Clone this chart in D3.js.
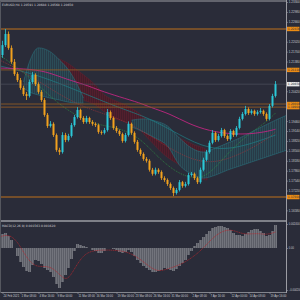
<!DOCTYPE html>
<html>
<head>
<meta charset="utf-8">
<style>
  html, body { margin: 0; padding: 0; background: #2a2c39; overflow: hidden; }
  svg { display: block; font-family: "DejaVu Sans", sans-serif; }
</style>
<script src="https://cdn.jsdelivr.net/npm/d3@7"></script>
</head>
<body>
<div class="chart-div"></div>
<script>
const w = 300;
const h = 300;
const plotRight = 286;
const mainTop = 2, mainBottom = 220;
const subTop = 222, subBottom = 292;

// EURUSD candles, oldest first
const opens = [1.2159, 1.2191, 1.2227, 1.2182, 1.2137, 1.2098, 1.2078, 1.2053, 1.2033, 1.2027,
  1.2072, 1.2095, 1.2065, 1.2040, 1.2014, 1.1966, 1.1930, 1.1937, 1.1901, 1.1853,
  1.1846, 1.1901, 1.1885, 1.1898, 1.1933, 1.1959, 1.1982, 1.1956, 1.1943, 1.1956,
  1.1943, 1.1937, 1.1933, 1.1911, 1.1908, 1.1917, 1.1975, 1.1956, 1.1924, 1.1914,
  1.1904, 1.1882, 1.1901, 1.1937, 1.1908, 1.1879, 1.1853, 1.1840, 1.1824, 1.1818,
  1.1789, 1.1776, 1.1789, 1.1782, 1.1762, 1.1756, 1.1743, 1.1730, 1.1714, 1.1724,
  1.1749, 1.1737, 1.1743, 1.1772, 1.1776, 1.1762, 1.1749, 1.1789, 1.1821, 1.1846,
  1.1876, 1.1908, 1.1885, 1.1898, 1.1917, 1.1898, 1.1888, 1.1914, 1.1901, 1.1924,
  1.1953, 1.1969, 1.1985, 1.1972, 1.1979, 1.1969, 1.1975, 1.1979, 1.1969, 1.1953,
  1.1995, 1.2027];
const highs = [1.2205, 1.2243, 1.2235, 1.2190, 1.2146, 1.2104, 1.2085, 1.2060, 1.2040, 1.2080,
  1.2104, 1.2100, 1.2071, 1.2046, 1.2020, 1.1972, 1.1946, 1.1942, 1.1906, 1.1860,
  1.1910, 1.1908, 1.1905, 1.1940, 1.1966, 1.1991, 1.1986, 1.1962, 1.1963, 1.1960,
  1.1949, 1.1942, 1.1938, 1.1916, 1.1924, 1.1985, 1.1980, 1.1961, 1.1930, 1.1919,
  1.1909, 1.1908, 1.1945, 1.1941, 1.1913, 1.1885, 1.1858, 1.1845, 1.1830, 1.1823,
  1.1795, 1.1796, 1.1794, 1.1787, 1.1768, 1.1761, 1.1748, 1.1735, 1.1730, 1.1756,
  1.1753, 1.1750, 1.1779, 1.1782, 1.1780, 1.1767, 1.1796, 1.1828, 1.1853, 1.1883,
  1.1917, 1.1912, 1.1905, 1.1924, 1.1921, 1.1903, 1.1920, 1.1918, 1.1930, 1.1960,
  1.1975, 1.1995, 1.1990, 1.1984, 1.1983, 1.1981, 1.1988, 1.1983, 1.1974, 1.2001,
  1.2034, 1.2075];
const lows = [1.2150, 1.2185, 1.2176, 1.2131, 1.2092, 1.2072, 1.2047, 1.2027, 1.2014, 1.2022,
  1.2066, 1.2059, 1.2034, 1.2008, 1.1960, 1.1924, 1.1925, 1.1895, 1.1847, 1.1837,
  1.1841, 1.1878, 1.1880, 1.1893, 1.1928, 1.1954, 1.1950, 1.1937, 1.1938, 1.1937,
  1.1931, 1.1927, 1.1905, 1.1902, 1.1903, 1.1912, 1.1950, 1.1918, 1.1908, 1.1898,
  1.1876, 1.1877, 1.1896, 1.1902, 1.1873, 1.1847, 1.1834, 1.1818, 1.1812, 1.1783,
  1.1770, 1.1771, 1.1776, 1.1756, 1.1750, 1.1737, 1.1724, 1.1704, 1.1709, 1.1719,
  1.1731, 1.1732, 1.1738, 1.1767, 1.1756, 1.1743, 1.1744, 1.1784, 1.1816, 1.1841,
  1.1871, 1.1879, 1.1880, 1.1893, 1.1892, 1.1882, 1.1883, 1.1895, 1.1896, 1.1919,
  1.1948, 1.1964, 1.1966, 1.1967, 1.1963, 1.1964, 1.1970, 1.1963, 1.1947, 1.1948,
  1.1990, 1.2022];
const closes = [1.2191, 1.2227, 1.2182, 1.2137, 1.2098, 1.2078, 1.2053, 1.2033, 1.2027, 1.2072,
  1.2095, 1.2065, 1.2040, 1.2014, 1.1966, 1.1930, 1.1937, 1.1901, 1.1853, 1.1846,
  1.1901, 1.1885, 1.1898, 1.1933, 1.1959, 1.1982, 1.1956, 1.1943, 1.1956, 1.1943,
  1.1937, 1.1933, 1.1911, 1.1908, 1.1917, 1.1975, 1.1956, 1.1924, 1.1914, 1.1904,
  1.1882, 1.1901, 1.1937, 1.1908, 1.1879, 1.1853, 1.1840, 1.1824, 1.1818, 1.1789,
  1.1776, 1.1789, 1.1782, 1.1762, 1.1756, 1.1743, 1.1730, 1.1714, 1.1724, 1.1749,
  1.1737, 1.1743, 1.1772, 1.1776, 1.1762, 1.1749, 1.1789, 1.1821, 1.1846, 1.1876,
  1.1908, 1.1885, 1.1898, 1.1917, 1.1898, 1.1888, 1.1914, 1.1901, 1.1924, 1.1953,
  1.1969, 1.1985, 1.1972, 1.1979, 1.1969, 1.1975, 1.1979, 1.1969, 1.1953, 1.1995,
  1.2027, 1.2065];

// moving averages, [bar index, price]
const maSlow = [[-1, 1.2117], [10, 1.2114], [16, 1.2101], [21, 1.2082], [28, 1.2062], [32, 1.2046],
  [39, 1.2024], [46, 1.2004], [49, 1.1991], [56, 1.1969], [62, 1.1937], [69, 1.1914],
  [76, 1.1904], [83, 1.1904], [89, 1.1914], [91, 1.1920]];
const maFast = [[-1, 1.2159], [6, 1.2111], [12, 1.2062], [19, 1.1998], [26, 1.1956], [32, 1.1933],
  [39, 1.1924], [46, 1.1891], [52, 1.1827], [59, 1.1772], [66, 1.1756], [71, 1.1795],
  [76, 1.1853], [83, 1.1911], [88, 1.1943], [91, 1.1972]];
const maMid = [[-1, 1.2143], [9, 1.2095], [19, 1.2030], [29, 1.1982], [39, 1.1956], [49, 1.1901],
  [59, 1.1837], [69, 1.1804], [79, 1.1837], [88, 1.1885], [91, 1.1911]];
const maTeal = [[-1, 1.2124], [12, 1.2095], [26, 1.2040], [39, 1.1988], [49, 1.1956], [59, 1.1901],
  [69, 1.1853], [79, 1.1859], [91, 1.1901]];

// clouds, [bar index, upper, lower]
const redCloud = [[14, 1.2149, 1.2137], [17, 1.2149, 1.2095], [21, 1.2137, 1.2062], [24, 1.2117, 1.2030],
  [27, 1.2095, 1.2014], [31, 1.2062, 1.1998], [34, 1.2030, 1.1975], [37, 1.2014, 1.1956],
  [41, 1.1998, 1.1943], [45, 1.1975, 1.1924], [49, 1.1943, 1.1885], [54, 1.1917, 1.1837],
  [59, 1.1891, 1.1804], [64, 1.1869, 1.1772], [68, 1.1853, 1.1756], [69, 1.1814, 1.1801]];
const tealCloudA = [[7, 1.2072, 1.2053], [9, 1.2137, 1.2040], [12, 1.2182, 1.2030], [16, 1.2169, 1.2020],
  [19, 1.2143, 1.2014], [22, 1.2111, 1.2007], [25, 1.2062, 1.2004], [27, 1.2020, 1.2004]];
const tealCloudB = [[43, 1.1949, 1.1927], [47, 1.1953, 1.1911], [51, 1.1946, 1.1891], [55, 1.1930, 1.1866],
  [59, 1.1891, 1.1804], [63, 1.1859, 1.1775], [67, 1.1846, 1.1762], [71, 1.1859, 1.1772],
  [75, 1.1875, 1.1788], [79, 1.1891, 1.1801], [83, 1.1911, 1.1814], [87, 1.1930, 1.1827],
  [91, 1.1949, 1.1840], [95, 1.1966, 1.1853]];

const levels = [1.2243, 1.2111, 1.2001, 1.1991, 1.1701];
const priceTicks = [1.2330, 1.2298, 1.2266, 1.2234, 1.2202, 1.2170, 1.2138, 1.2106, 1.2074, 1.2042,
  1.2010, 1.1978, 1.1946, 1.1914, 1.1882, 1.1850, 1.1818, 1.1786, 1.1754, 1.1722, 1.1690, 1.1658];

// MACD histogram and signal
const macd = [0.0014, 0.0015, 0.0012, 0.0008, 0.0000, -0.0008, -0.0014, -0.0019, -0.0023, -0.0024,
  -0.0017, -0.0012, -0.0013, -0.0016, -0.0020, -0.0022, -0.0024, -0.0029, -0.0036, -0.0040,
  -0.0034, -0.0027, -0.0020, -0.0011, -0.0003, 0.0004, 0.0003, 0.0002, 0.0001, 0.0000,
  -0.0002, -0.0003, -0.0005, -0.0005, -0.0003, 0.0000, 0.0000, -0.0001, -0.0002, -0.0004,
  -0.0005, -0.0004, -0.0002, -0.0004, -0.0008, -0.0012, -0.0015, -0.0018, -0.0020, -0.0022,
  -0.0024, -0.0024, -0.0023, -0.0022, -0.0020, -0.0021, -0.0022, -0.0023, -0.0021, -0.0018,
  -0.0015, -0.0012, -0.0007, -0.0003, 0.0002, 0.0005, 0.0008, 0.0011, 0.0014, 0.0017,
  0.0020, 0.0021, 0.0022, 0.0022, 0.0021, 0.0020, 0.0018, 0.0015, 0.0013, 0.0013,
  0.0012, 0.0014, 0.0016, 0.0018, 0.0019, 0.0019, 0.0017, 0.0015, 0.0012, 0.0013,
  0.0017, 0.0023];
const signal = [[-1, 0.0011], [2, 0.0014], [5, 0.0007], [8, -0.0010], [11, -0.0019], [14, -0.0018],
  [17, -0.0020], [20, -0.0030], [22, -0.0032], [25, -0.0015], [28, -0.0004], [32, -0.0002],
  [37, -0.0002], [43, -0.0004], [49, -0.0019], [52, -0.0024], [56, -0.0020], [60, -0.0016],
  [66, -0.0004], [71, 0.0014], [76, 0.0020], [80, 0.0013], [85, 0.0015], [88, 0.0013], [91, 0.0016]];
const macdTicks = [0.0024, 0, -0.0042];

const dateIdx = [0, 6, 12, 18, 25, 31, 38, 44, 50, 56, 63, 69, 76, 82, 89];
const dateLabels = ["24 Feb 2021", "1 Mar 08:00", "4 Mar 16:00", "9 Mar 00:00", "11 Mar 08:00",
  "16 Mar 16:00", "19 Mar 00:00", "23 Mar 08:00", "26 Mar 16:00", "31 Mar 00:00",
  "2 Apr 08:00", "7 Apr 16:00", "12 Apr 00:00", "14 Apr 08:00", "19 Apr 16:00"];

const title = "EURUSD,H4  1.20591 1.20688 1.20568 1.20650";
const macdTitle = "MACD(12,26,9) 0.001563 0.001620";

const svg = d3.select(".chart-div")
  .append("svg")
  .attr("width", w)
  .attr("height", h);

const defs = svg.append("defs");
defs.append("clipPath").attr("id", "main-clip")
  .append("rect").attr("x", 1).attr("y", mainTop).attr("width", plotRight - 1).attr("height", mainBottom - mainTop);
defs.append("clipPath").attr("id", "sub-clip")
  .append("rect").attr("x", 1).attr("y", subTop).attr("width", plotRight - 1).attr("height", subBottom - subTop);

function hatch(id, bg, line) {
  const p = defs.append("pattern").attr("id", id).attr("patternUnits", "userSpaceOnUse")
    .attr("width", 2).attr("height", 4);
  p.append("rect").attr("width", 2).attr("height", 4).attr("fill", bg);
  p.append("rect").attr("width", 1).attr("height", 4).attr("fill", line);
}
hatch("red-hatch", "#431d2a", "#521f2d");
hatch("teal-hatch", "#283a47", "#2b4c57");
hatch("macd-hatch", "#5c5e67", "#72747c");

const x = d3.scaleLinear().domain([0, 91]).range([2.5, 275.5]);
const y = d3.scaleLinear().domain([1.1627, 1.2330]).range([mainBottom, mainTop]);
const ym = d3.scaleLinear().domain([-0.0044, 0.0026]).range([subBottom, subTop]);

const main = svg.append("g").attr("clip-path", "url(#main-clip)");

// clouds
function cloud(data, fillId, edge) {
  const area = d3.area().curve(d3.curveMonotoneX)
    .x(d => x(d[0])).y0(d => y(d[2])).y1(d => y(d[1]));
  main.append("path").datum(data).attr("d", area).attr("fill", `url(#${fillId})`);
  const top = d3.line().curve(d3.curveMonotoneX).x(d => x(d[0])).y(d => y(d[1]));
  const bot = d3.line().curve(d3.curveMonotoneX).x(d => x(d[0])).y(d => y(d[2]));
  main.append("path").datum(data).attr("d", top).attr("fill", "none").attr("stroke", edge).attr("stroke-width", 0.5);
  main.append("path").datum(data).attr("d", bot).attr("fill", "none").attr("stroke", edge).attr("stroke-width", 0.5);
}
cloud(redCloud, "red-hatch", "#65202f");
cloud(tealCloudA, "teal-hatch", "#287a86");
cloud(tealCloudB, "teal-hatch", "#287a86");

// moving averages
const maLine = d3.line().curve(d3.curveBasis).x(d => x(d[0])).y(d => y(d[1]));
main.append("path").datum(maTeal).attr("d", maLine).attr("fill", "none")
  .attr("stroke", "#1e7f86").attr("stroke-width", 0.7);
main.append("path").datum(maMid).attr("d", maLine).attr("fill", "none")
  .attr("stroke", "#a8323a").attr("stroke-width", 0.7).attr("stroke-dasharray", "1,1");
main.append("path").datum(maFast).attr("d", maLine).attr("fill", "none")
  .attr("stroke", "#2e9a44").attr("stroke-width", 0.7).attr("stroke-dasharray", "1,1");
main.append("path").datum(maSlow).attr("d", maLine).attr("fill", "none")
  .attr("stroke", "#c02680").attr("stroke-width", 0.9);

// support / resistance levels
main.selectAll(".level")
  .data(levels).enter()
  .append("line")
  .attr("class", "level")
  .attr("x1", 1).attr("x2", plotRight)
  .attr("y1", d => y(d)).attr("y2", d => y(d))
  .attr("stroke", "#8e5a26")
  .attr("stroke-width", (d, i) => (i === 0 || i === 4) ? 1.6 : 0.9);

// last price line
const last = closes[closes.length - 1];
main.append("line")
  .attr("x1", 1).attr("x2", plotRight)
  .attr("y1", y(last)).attr("y2", y(last))
  .attr("stroke", "#4d505c").attr("stroke-width", 0.7);

// candles
const candles = main.selectAll(".candle")
  .data(closes).enter()
  .append("g")
  .attr("class", "candle");
candles.append("line")
  .attr("x1", (d, i) => x(i)).attr("x2", (d, i) => x(i))
  .attr("y1", (d, i) => y(highs[i])).attr("y2", (d, i) => y(lows[i]))
  .attr("stroke", (d, i) => d >= opens[i] ? "#2cc8d8" : "#f2a11e")
  .attr("stroke-width", 0.8);
candles.append("rect")
  .attr("x", (d, i) => x(i) - 1)
  .attr("width", 2)
  .attr("y", (d, i) => y(Math.max(d, opens[i])))
  .attr("height", (d, i) => Math.max(0.8, Math.abs(y(d) - y(opens[i]))))
  .attr("fill", (d, i) => d >= opens[i] ? "#2cc8d8" : "#f2a11e");

// MACD panel
const sub = svg.append("g").attr("clip-path", "url(#sub-clip)");
sub.selectAll(".bar")
  .data(macd).enter()
  .append("rect")
  .attr("class", "bar")
  .attr("x", (d, i) => x(i) - 1.5)
  .attr("width", 3)
  .attr("y", d => Math.min(ym(d), ym(0)))
  .attr("height", d => Math.abs(ym(d) - ym(0)))
  .attr("fill", "url(#macd-hatch)");
sub.append("path").datum(signal)
  .attr("d", d3.line().curve(d3.curveBasis).x(d => x(d[0])).y(d => ym(d[1])))
  .attr("fill", "none").attr("stroke", "#b3262e").attr("stroke-width", 0.7)
  .attr("stroke-dasharray", "1.2,0.6");

// frames
const frame = "#9b9ca3";
svg.append("line").attr("x1", 0).attr("x2", plotRight).attr("y1", 1).attr("y2", 1)
  .attr("stroke", frame).attr("stroke-width", 1);
svg.append("line").attr("x1", 0).attr("x2", plotRight).attr("y1", 221).attr("y2", 221)
  .attr("stroke", frame).attr("stroke-width", 1.6);
svg.append("line").attr("x1", 0).attr("x2", plotRight).attr("y1", 292.5).attr("y2", 292.5)
  .attr("stroke", frame).attr("stroke-width", 0.8);
svg.append("line").attr("x1", 0.5).attr("x2", 0.5).attr("y1", 1).attr("y2", 293)
  .attr("stroke", "#55575f").attr("stroke-width", 1);
svg.append("line").attr("x1", plotRight + 0.5).attr("x2", plotRight + 0.5).attr("y1", 0).attr("y2", 293)
  .attr("stroke", frame).attr("stroke-width", 1);

// price axis, ticks hidden where a level tag sits
const tagged = levels.concat([last]);
const shownTicks = priceTicks.filter(t => tagged.every(l => Math.abs(y(t) - y(l)) > 4.6));
const yAxis = d3.axisRight(y).tickValues(shownTicks).tickFormat(d3.format(".5f"))
  .tickSize(1.5).tickPadding(0.8).tickSizeOuter(0);
const ya = svg.append("g").attr("transform", `translate(${plotRight + 0.5},0)`).call(yAxis);
ya.select(".domain").remove();
ya.selectAll("line").attr("stroke", frame).attr("stroke-width", 0.6);
ya.selectAll("text").attr("fill", "#c9cad0").attr("font-size", 3);

// level labels
const lab = svg.selectAll(".lvl-label").data(levels).enter().append("g").attr("class", "lvl-label");
lab.append("rect")
  .attr("x", plotRight + 1).attr("y", d => y(d) - 2.2).attr("width", 12.5).attr("height", 4.4)
  .attr("fill", "#ec8c14");
lab.append("text")
  .attr("x", plotRight + 1.8).attr("y", d => y(d) + 1.1)
  .attr("font-size", 3).attr("fill", "#2a2c39")
  .text(d => d3.format(".5f")(d));
svg.append("rect").attr("x", plotRight + 1).attr("y", y(last) - 2.2).attr("width", 12.5).attr("height", 4.4)
  .attr("fill", "#e8e8ea");
svg.append("text").attr("x", plotRight + 1.8).attr("y", y(last) + 1.1)
  .attr("font-size", 3).attr("fill", "#2a2c39").text(d3.format(".5f")(last));

// MACD axis
const ma = svg.append("g").attr("transform", `translate(${plotRight + 0.5},0)`)
  .call(d3.axisRight(ym).tickValues(macdTicks).tickSize(1.5).tickPadding(0.8).tickSizeOuter(0)
    .tickFormat(d => d === 0 ? "0.00" : d3.format(".6f")(d)));
ma.select(".domain").remove();
ma.selectAll("line").attr("stroke", frame).attr("stroke-width", 0.6);
ma.selectAll("text").attr("fill", "#c9cad0").attr("font-size", 2.6);

// time axis
const xa = svg.append("g").attr("transform", "translate(0,292.5)")
  .call(d3.axisBottom(x).tickValues(dateIdx).tickSize(1.5).tickPadding(1).tickSizeOuter(0)
    .tickFormat((d, i) => dateLabels[i]));
xa.select(".domain").remove();
xa.selectAll("line").attr("stroke", frame).attr("stroke-width", 0.6);
xa.selectAll("text").attr("fill", "#c9cad0").attr("font-size", 2.8)
  .attr("text-anchor", "start").attr("dx", 0.5);

// titles
svg.append("text").attr("x", 2).attr("y", 5.5).attr("font-size", 3).attr("fill", "#d0d0d4").text(title);
svg.append("text").attr("x", 2).attr("y", 226.5).attr("font-size", 3).attr("fill", "#d0d0d4").text(macdTitle);
</script>
</body>
</html>
